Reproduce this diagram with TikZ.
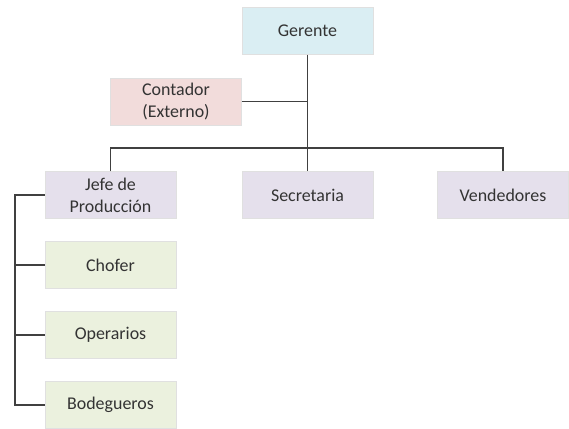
\documentclass[tikz,border=0pt]{standalone}
\usepackage{fontspec}
\setmainfont{Carlito}
\definecolor{azul}{HTML}{DAEEF3}
\definecolor{rosa}{HTML}{F2DCDB}
\definecolor{lila}{HTML}{E5E0EC}
\definecolor{verde}{HTML}{EBF1DE}
\definecolor{linea}{HTML}{404040}
\tikzset{
  caja/.style={draw=black!12, minimum width=131*0.3mm, minimum height=47*0.3mm,
    inner sep=0pt, align=center, text=black!80,
    font=\fontsize{15.3}{18.8}\selectfont},
  rama/.style={draw=linea, line width=0.45mm}
}
\begin{document}
\begin{tikzpicture}[x=0.3mm, y=-0.3mm]
		\useasboundingbox (0,0) rectangle (569,428);
		\node[caja, fill=azul] (ger) at (307.5, 31) {Gerente};
		\node[caja, fill=rosa] (cont) at (176, 101.5) {Contador\\(Externo)};
		\node[caja, fill=lila] (jefe) at (110.5, 195) {Jefe de\\Producción};
		\node[caja, fill=lila] (sec) at (307.5, 195) {Secretaria};
		\node[caja, fill=lila] (vend) at (503, 195) {Vendedores};
		\node[caja, fill=verde] (chof) at (110.5, 265) {Chofer};
		\node[caja, fill=verde] (oper) at (110.5, 335) {Operarios};
		\node[caja, fill=verde] (bod) at (110.5, 405) {Bodegueros};
		\coordinate (bus) at (307.5, 148);
		\coordinate (riel) at (15, 195);
		\draw[rama] (ger.south) -- (sec.north);
		\draw[rama] (cont.east) -- (cont.east -| ger.south);
		\draw[rama] (jefe.north) |- (bus) -| (vend.north);
		\draw[rama] (jefe.west) -- (riel) |- (bod.west);
		\draw[rama] (riel |- chof.west) -- (chof.west);
		\draw[rama] (riel |- oper.west) -- (oper.west);
	\end{tikzpicture}
\end{document}
